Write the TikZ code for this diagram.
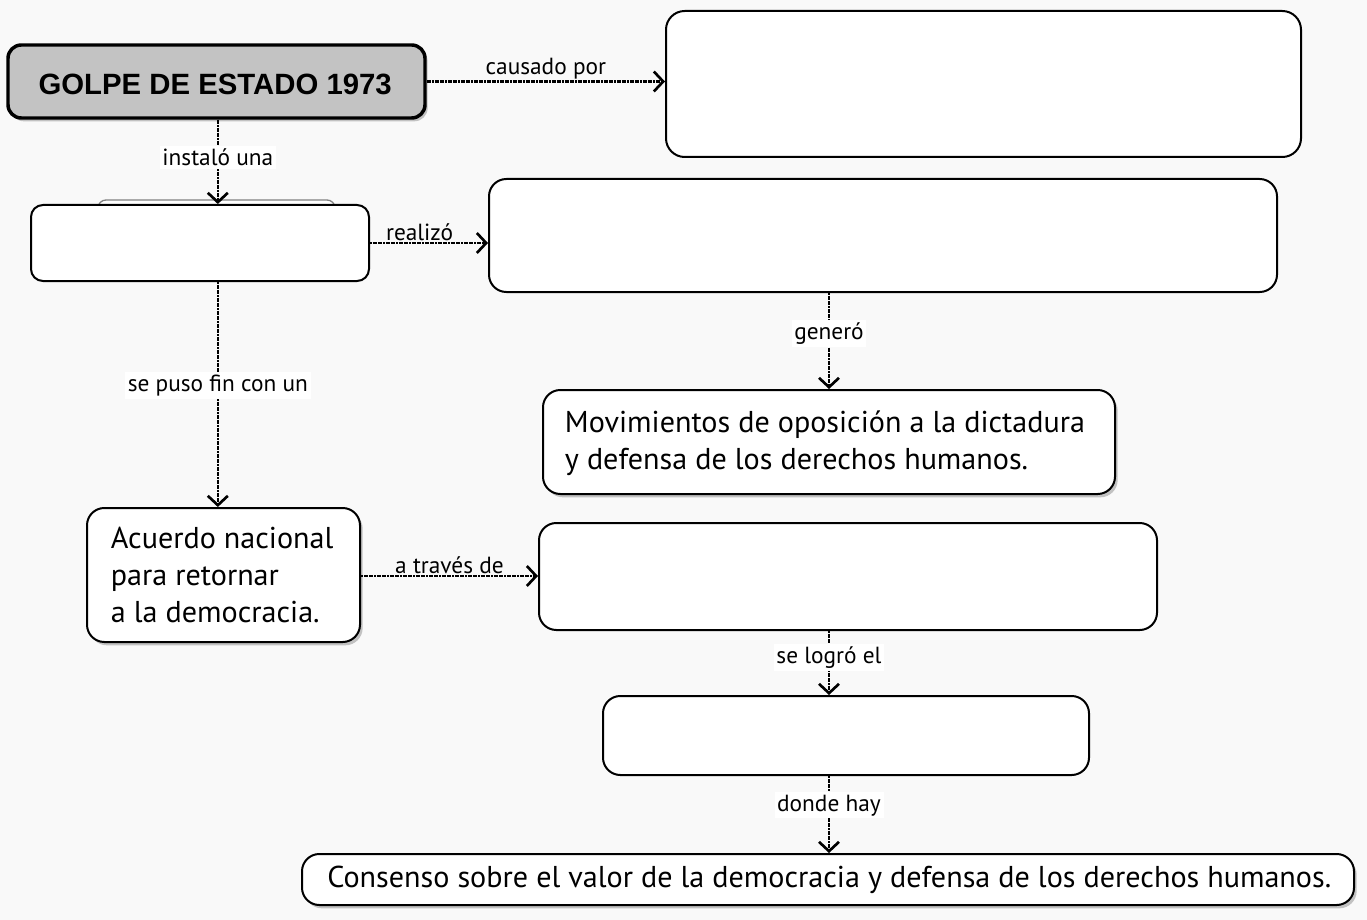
\documentclass[tikz,border=0pt]{standalone}
\usepackage{fontspec}
\setmainfont{PT Sans}
\newfontfamily\titlefont{Liberation Sans}
\usetikzlibrary{arrows.meta,fit,shadows}
\definecolor{bgc}{HTML}{F9F9F9}
\definecolor{golpec}{HTML}{C3C3C3}
\tikzset{
  box/.style={draw=black,line width=1.5pt,rounded corners=9pt,fill=white,inner sep=0pt},
  shadowed/.style={drop shadow={opacity=0.45,shadow xshift=2pt,shadow yshift=-2.5pt}},
  conn/.style={line width=2pt,dash pattern=on 1.5pt off 0.45pt,-{Straight Barb[length=7pt,width=15pt,line width=2pt]}},
  lbl/.style={font=\fontsize{17.5}{20}\selectfont,fill=white,inner sep=2pt},
  hlbl/.style={font=\fontsize{17.5}{20}\selectfont,above,inner sep=1pt},
  big/.style={font=\fontsize{22.6}{28}\selectfont,align=left,inner sep=0pt}
}
\begin{document}
\begin{tikzpicture}[x=0.75pt,y=-0.75pt]
\fill[bgc] (0,0) rectangle (1367,920);
\useasboundingbox (0,0) rectangle (1367,920);
\coordinate (ax) at (829,0);
% faint shape behind box B
\draw[line width=1pt,gray,fill=white,rounded corners=6pt] (98,200) rectangle (335,230);
\node[box,fill=golpec,line width=2.6pt,rounded corners=10pt,shadowed,fit={(8,45) (425,118)}] (golpe) {};
\node[font=\titlefont\bfseries\fontsize{22}{24}\selectfont,inner sep=0pt] (golpet) at ([xshift=-1pt,yshift=-2pt]golpe.center) {GOLPE DE ESTADO 1973};
\node[box,rounded corners=14pt,fit={(666,11) (1301,157)}] (A) {};
\node[box,fit={(31,205) (369,281)}] (B) {};
\node[box,rounded corners=13pt,fit={(489,179) (1277,292)}] (C) {};
\node[box,rounded corners=13pt,shadowed,fit={(543,390) (1115,494)}] (mov) {};
\node[big] (movt) at ([xshift=-3pt,yshift=-1pt]mov.center) {Movimientos de oposición a la dictadura\\y defensa de los derechos humanos.};
\node[box,rounded corners=13pt,shadowed,fit={(87,508) (360,642)}] (acu) {};
\node[big] (acut) at ([xshift=-1pt]acu.center) {Acuerdo nacional\\para retornar\\a la democracia.};
\node[box,rounded corners=13pt,fit={(539,523) (1157,630)}] (D) {};
\node[box,rounded corners=13pt,fit={(603,696) (1089,775)}] (E) {};
\node[box,rounded corners=13pt,shadowed,fit={(302,854) (1354,905)}] (cons) {};
\node[big] (const) at ([xshift=1pt]cons.center) {Consenso sobre el valor de la democracia y defensa de los derechos humanos.};
% connectors
\draw[conn] (golpe.east) -- (golpe.east -| A.west) node[hlbl,midway] {causado por};
\draw[conn] ([xshift=1pt]golpe.south) -- ([xshift=1pt]golpe.south |- B.north) node[lbl,pos=0.45] {instaló una};
\draw[conn] (B.east) -- (B.east -| C.west) node[hlbl,pos=0.42] {realizó};
\draw[conn] ([xshift=1pt]golpe.south |- B.south) -- ([xshift=1pt]golpe.south |- acu.north) node[lbl,pos=0.46] {se puso fin con un};
\draw[conn] (ax |- C.south) -- (ax |- mov.north) node[lbl,pos=0.42] {generó};
\draw[conn] (acu.east |- 0,576) -- (D.west |- 0,576) node[hlbl,midway] {a través de};
\draw[conn] (ax |- D.south) -- (ax |- E.north) node[lbl,pos=0.41] {se logró el};
\draw[conn] (ax |- E.south) -- (ax |- cons.north) node[lbl,pos=0.38] {donde hay};
\end{tikzpicture}
\end{document}
